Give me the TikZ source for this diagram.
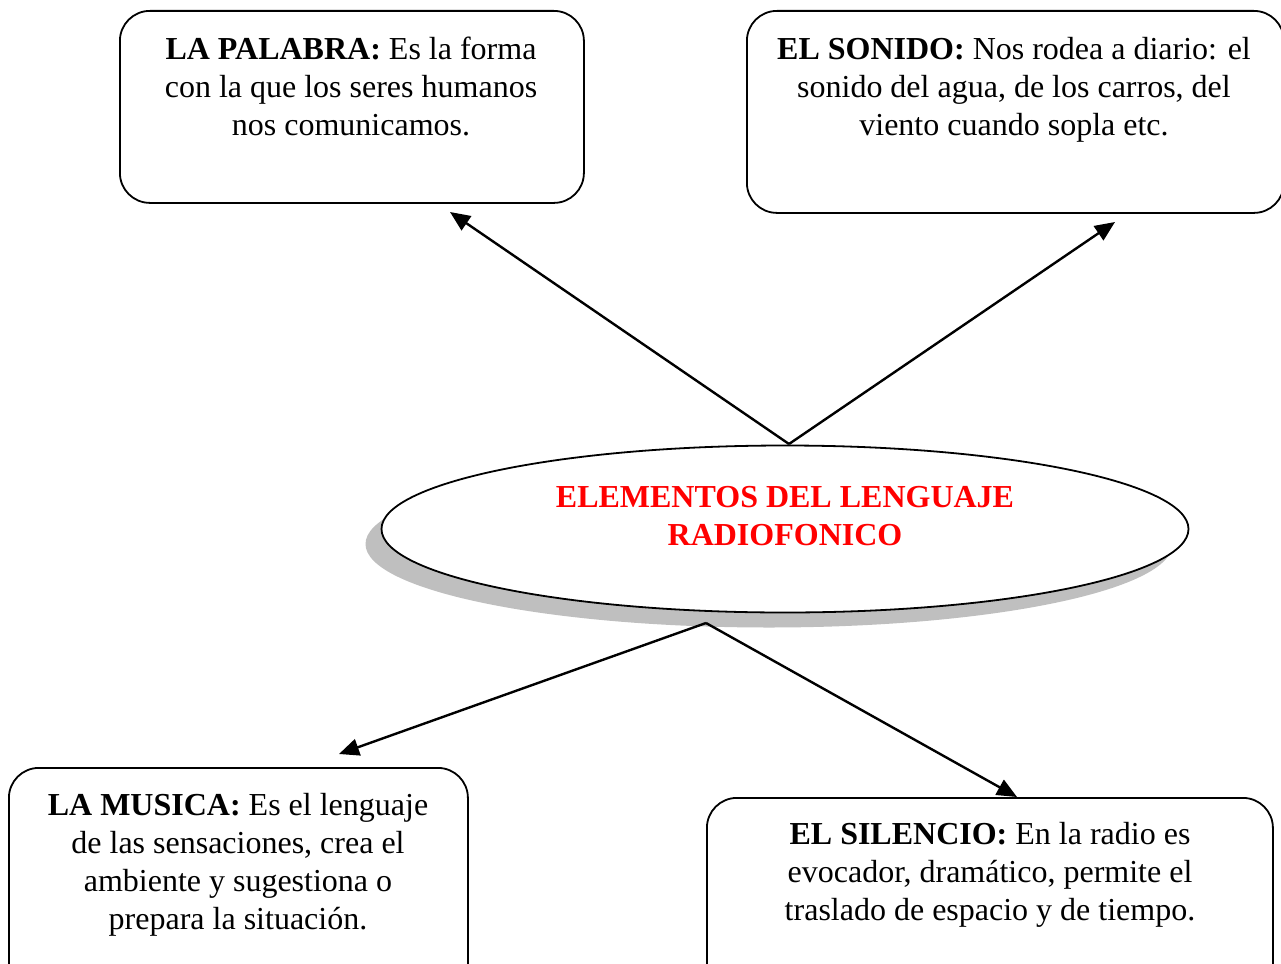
\documentclass[tikz,border=0pt]{standalone}
\usepackage{fontspec}
\setmainfont{Liberation Serif}
\usetikzlibrary{arrows.meta,shapes.geometric}
\definecolor{shadowgray}{HTML}{BFBFBF}
\definecolor{titlered}{HTML}{FF0000}
\begin{document}
\begin{tikzpicture}[x=1pt,y=-1pt,
  box/.style={draw,line width=1.8pt,rounded corners=30pt,anchor=north west,inner sep=0pt},
  txt/.style={align=center,font=\fontsize{32}{38}\selectfont,anchor=north,inner sep=0pt},
  conn/.style={line width=2.4pt,-{Triangle[length=20pt,width=17pt]}}]
\useasboundingbox (0,0) rectangle (1281,963);
\clip (0,0) rectangle (1281,963);
% boxes
\node[box,minimum width=464pt,minimum height=192pt] (palabra) at (119,10) {};
\node[box,minimum width=537pt,minimum height=202pt] (sonido) at (746,10) {};
\node[box,minimum width=459pt,minimum height=260pt] (musica) at (8,767) {};
\node[box,minimum width=566pt,minimum height=260pt] (silencio) at (706,797) {};
% texts
\node[txt] (palabratxt) at (351,37) {\textbf{LA PALABRA:} Es la forma\\con la que los seres humanos\\nos comunicamos.};
\node[txt] (sonidotxt) at (1014,37) {\textbf{EL SONIDO:} Nos rodea a diario: el\\sonido del agua, de los carros, del\\viento cuando sopla etc.};
\node[txt] (musicatxt) at (238,793) {\textbf{LA MUSICA:} Es el lenguaje\\de las sensaciones, crea el\\ambiente y sugestiona o\\prepara la situación.};
\node[txt] (silenciotxt) at (990,822) {\textbf{EL SILENCIO:} En la radio es\\evocador, dramático, permite el\\traslado de espacio y de tiempo.};
% central ellipse with shadow
\node[ellipse,fill=shadowgray,minimum width=807pt,minimum height=167pt,inner sep=0pt] (shadow) at (769,544) {};
\node[ellipse,draw,line width=1.8pt,fill=white,minimum width=807pt,minimum height=167pt,inner sep=0pt] (elem) at (785,529) {};
\node[txt,text=titlered,font=\bfseries\fontsize{32}{38}\selectfont] (elemtxt) at (785,486) {ELEMENTOS DEL LENGUAJE\\RADIOFONICO};
% connector ends
\coordinate (ctop) at (789,444);
\coordinate (cbot) at (706,623);
\coordinate (tpalabra) at (450,212);
\coordinate (tsonido) at (1115,222);
\coordinate (tmusica) at (339,754);
\coordinate (tsilencio) at (1017,797);
\draw[conn] (ctop) -- (tpalabra);
\draw[conn] (ctop) -- (tsonido);
\draw[conn] (cbot) -- (tmusica);
\draw[conn] (cbot) -- (tsilencio);
\end{tikzpicture}
\end{document}
